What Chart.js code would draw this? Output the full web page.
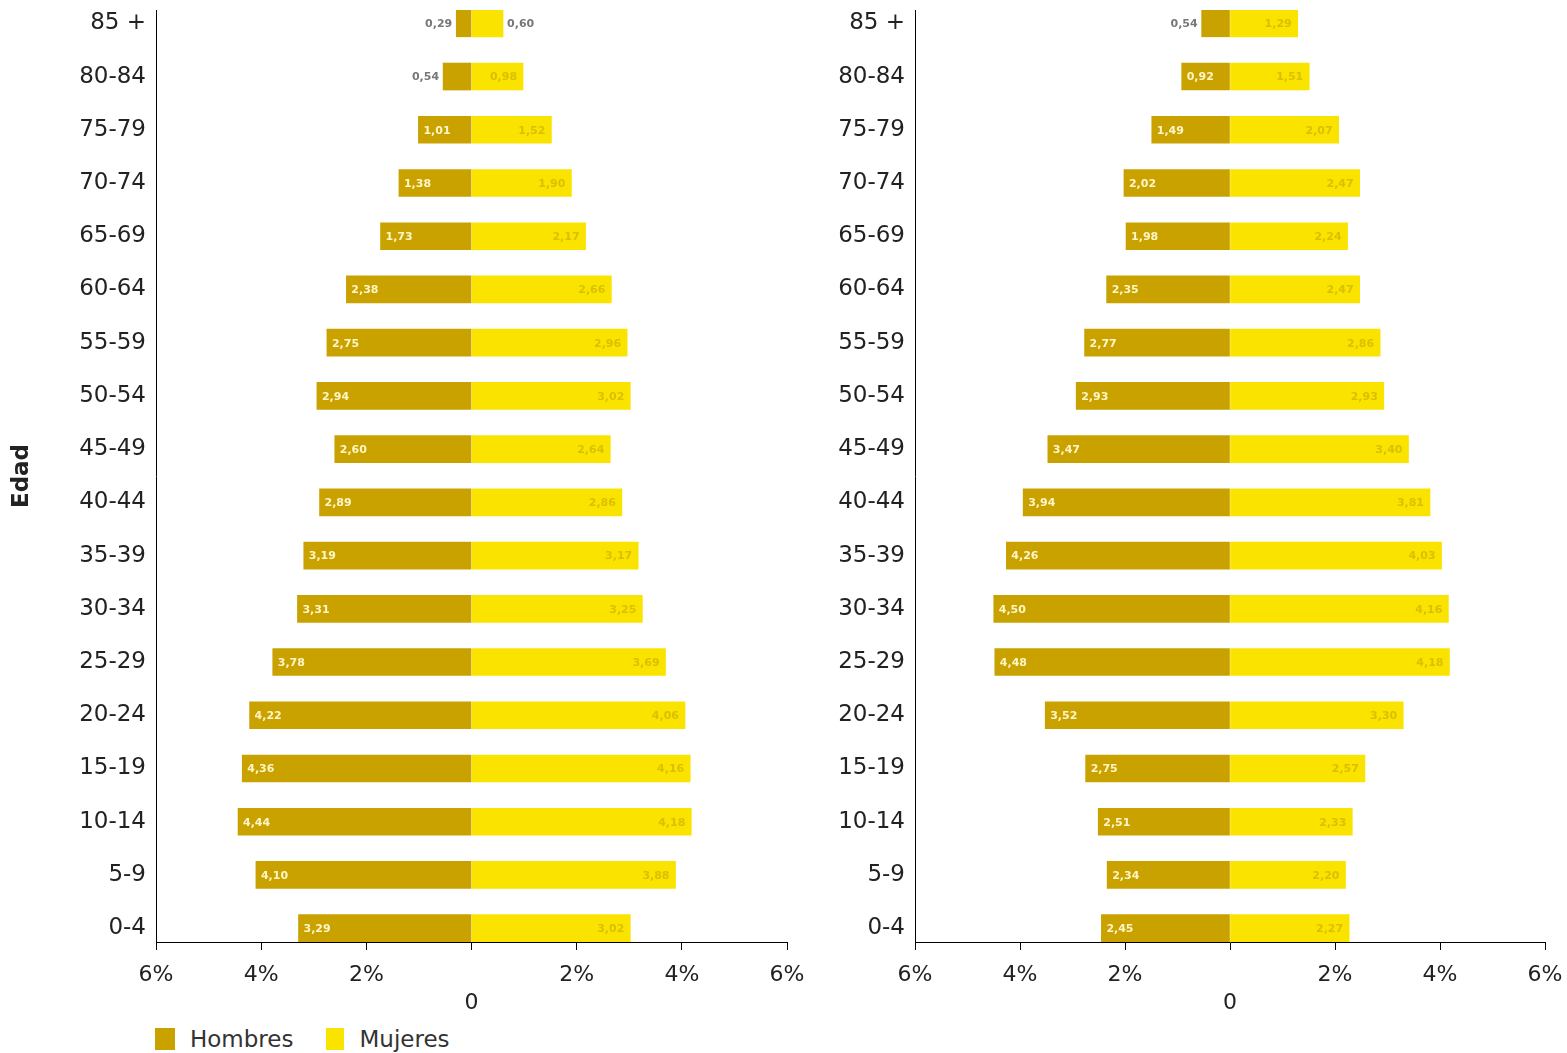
<!DOCTYPE html>
<html><head><meta charset="utf-8">
<script src="https://cdn.jsdelivr.net/npm/chart.js@4.4.1/dist/chart.umd.min.js"></script>
<style>
html,body{margin:0;padding:0;background:#fff;width:1567px;height:1053px;overflow:hidden;font-family:"DejaVu Sans",Verdana,sans-serif;}
#c1{position:absolute;left:0;top:0;}
#c2{position:absolute;left:812px;top:0;}
#legend{position:absolute;left:155px;top:1027px;font-size:23px;color:#333;display:flex;align-items:center;height:24px;}
.sw{display:inline-block;width:20px;height:22px;margin-right:15px;}
.it{display:flex;align-items:center;margin-right:33px;}
</style></head><body>
<canvas id="c1" width="812" height="1015"></canvas>
<canvas id="c2" width="755" height="1015"></canvas>
<div id="legend"></div>
<script>
const categories = ['0-4','5-9','10-14','15-19','20-24','25-29','30-34','35-39','40-44','45-49','50-54','55-59','60-64','65-69','70-74','75-79','80-84','85 +'];
const hombresIzq = [3.29,4.10,4.44,4.36,4.22,3.78,3.31,3.19,2.89,2.60,2.94,2.75,2.38,1.73,1.38,1.01,0.54,0.29];
const mujeresIzq = [3.02,3.88,4.18,4.16,4.06,3.69,3.25,3.17,2.86,2.64,3.02,2.96,2.66,2.17,1.90,1.52,0.98,0.60];
const hombresDer = [2.45,2.34,2.51,2.75,3.52,4.48,4.50,4.26,3.94,3.47,2.93,2.77,2.35,1.98,2.02,1.49,0.92,0.54];
const mujeresDer = [2.27,2.20,2.33,2.57,3.30,4.18,4.16,4.03,3.81,3.40,2.93,2.86,2.47,2.24,2.47,2.07,1.51,1.29];
const seriesNames = ['Hombres','Mujeres'];
const xTicks = [-6,-4,-2,0,2,4,6];

const colH = '#C9A200';
const colM = '#FBE300';
const FONT = '"DejaVu Sans", Verdana, sans-serif';

const fmt = v => v.toFixed(2).replace('.', ',');

const labelPlugin = {
  id: 'barLabels',
  afterDatasetsDraw(chart) {
    const ctx = chart.ctx;
    ctx.save();
    ctx.font = 'bold 11px ' + FONT;
    ctx.textBaseline = 'middle';
    chart.data.datasets.forEach((ds, di) => {
      const meta = chart.getDatasetMeta(di);
      meta.data.forEach((el, i) => {
        const p = el.getProps(['x','base','y'], true);
        const v = Math.abs(ds.data[i].x);
        const w = Math.abs(p.x - p.base);
        const txt = fmt(v);
        if (di === 0) {
          if (w >= 45) { ctx.fillStyle = '#FFF6C8'; ctx.textAlign = 'left'; ctx.fillText(txt, p.x + 5, p.y + 1); }
          else { ctx.fillStyle = '#777'; ctx.textAlign = 'right'; ctx.fillText(txt, p.x - 4, p.y + 1); }
        } else {
          if (w >= 45) { ctx.fillStyle = 'rgba(205,180,0,0.75)'; ctx.textAlign = 'right'; ctx.fillText(txt, p.x - 6, p.y + 1); }
          else { ctx.fillStyle = '#777'; ctx.textAlign = 'left'; ctx.fillText(txt, p.x + 4, p.y + 1); }
        }
      });
    });
    ctx.restore();
  }
};

function makeChart(id, hom, muj, yWidth, padRight, showTitle) {
  const dsH = hom.map((v, i) => ({x: -v, y: i}));
  const dsM = muj.map((v, i) => ({x: v, y: i}));
  return new Chart(document.getElementById(id), {
    type: 'bar',
    data: {
      datasets: [
        {label: seriesNames[0], data: dsH, backgroundColor: colH, borderWidth: 0, barThickness: 27, grouped: false},
        {label: seriesNames[1], data: dsM, backgroundColor: colM, borderWidth: 0, barThickness: 27, grouped: false}
      ]
    },
    options: {
      responsive: false,
      animation: false,
      indexAxis: 'y',
      layout: {padding: {top: 10, right: padRight, left: 0, bottom: 0}},
      plugins: {legend: {display: false}, tooltip: {enabled: false}},
      scales: {
        x: {
          type: 'linear', min: -6, max: 6,
          afterBuildTicks: s => { s.ticks = xTicks.map(v => ({value: v})); },
          afterFit: s => { s.height = 1015 - 942; s.paddingLeft = 0; s.paddingRight = 0; },
          grid: {drawOnChartArea: false, drawTicks: true, tickLength: 8, color: '#000'},
          border: {display: true, color: '#000', width: 1},
          ticks: {
            color: '#222', padding: 11,
            font: {family: FONT, size: 22, lineHeight: 1.27},
            maxRotation: 0, autoSkip: false,
            callback: v => v === 0 ? ['', '0'] : Math.abs(v) + '%'
          }
        },
        y: {
          type: 'linear', min: -0.26, max: 17.25, offset: false,
          afterBuildTicks: s => { s.ticks = categories.map((c, i) => ({value: i})); },
          afterFit: s => { s.width = yWidth; s.paddingTop = 0; s.paddingBottom = 0; },
          grid: {display: false, drawTicks: false, offset: false},
          border: {display: true, color: '#000', width: 1},
          ticks: {
            color: '#222', padding: 10, autoSkip: false,
            font: {family: FONT, size: 23},
            callback: v => categories[v] !== undefined ? categories[v] : ''
          },
          title: {
            display: showTitle, text: 'Edad', color: '#222',
            font: {family: FONT, size: 23, weight: 'bold'},
            padding: {top: 8, bottom: 0}
          }
        }
      }
    },
    plugins: [labelPlugin]
  });
}

makeChart('c1', hombresIzq, mujeresIzq, 156, 25, true);
makeChart('c2', hombresDer, mujeresDer, 103, 22, false);

const lg = document.getElementById('legend');
[[seriesNames[0], colH, 20], [seriesNames[1], colM, 18]].forEach(([n, c, w]) => {
  const it = document.createElement('div'); it.className = 'it';
  const sw = document.createElement('span'); sw.className = 'sw'; sw.style.background = c; sw.style.width = w + 'px';
  const tx = document.createElement('span'); tx.textContent = n;
  it.appendChild(sw); it.appendChild(tx); lg.appendChild(it);
});
</script>
</body></html>
